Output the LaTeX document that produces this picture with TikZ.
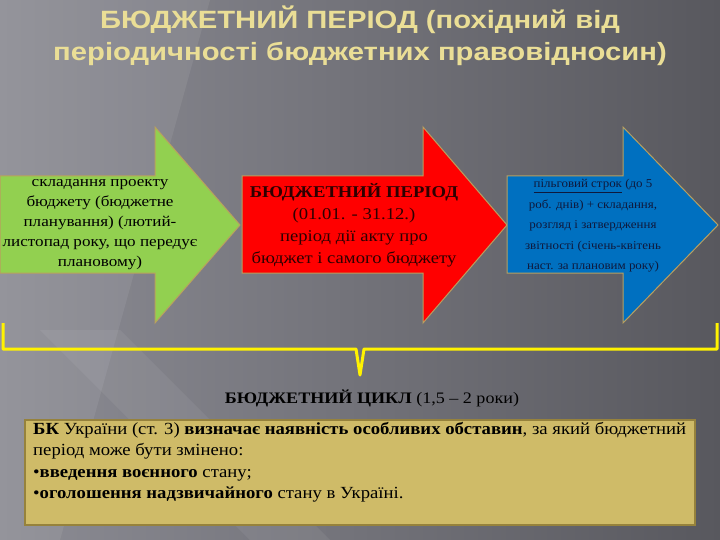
\documentclass[tikz,border=0pt]{standalone}
\usepackage{fontspec}
\setmainfont{Liberation Serif}
\newfontfamily\headfont[FakeStretch=1.17]{Liberation Sans}
\usetikzlibrary{positioning}
\definecolor{bgdark}{RGB}{88,88,94}
\definecolor{bglight}{RGB}{140,140,148}
\definecolor{titleyel}{RGB}{234,222,150}
\definecolor{grn}{RGB}{146,208,80}
\definecolor{rd}{RGB}{255,0,0}
\definecolor{blu}{RGB}{0,112,192}
\definecolor{rim}{RGB}{185,160,95}
\definecolor{tanfill}{RGB}{207,187,104}
\definecolor{tanrim}{RGB}{150,130,60}
\definecolor{navy}{RGB}{15,25,60}
\newcommand\wide[3]{\fontsize{#1}{#2}\selectfont\addfontfeature{FakeStretch=#3}}
\begin{document}
\begin{tikzpicture}[x=1pt,y=-1pt,
  arrowtext/.style={align=center, inner sep=0pt},
  notebox/.style={fill=tanfill, draw=tanrim, line width=1.2pt}]
\useasboundingbox (0,0) rectangle (720,540);
\shade[left color=bglight, right color=bgdark] (0,0) rectangle (720,540);
\fill[white, opacity=0.07] (0,0) -- (210,0) -- (60,540) -- (0,540) -- cycle;
\fill[white, opacity=0.06] (40,330) -- (120,330) -- (330,540) -- (250,540) -- cycle;
\node (title) at (360,36) [font=\headfont\bfseries\fontsize{25}{32}\selectfont, text=titleyel, align=center]
  {БЮДЖЕТНИЙ ПЕРІОД (похідний від\\періодичності бюджетних правовідносин)};
\foreach \tail/\base/\tip/\col in {0/155/240/grn, 242/423/507/rd, 507/623/718/blu}
  \filldraw[fill=\col, draw=rim, line width=1pt] (\tail,176) -- (\base,176) -- (\base,127)
    -- (\tip,225) -- (\base,323) -- (\base,273) -- (\tail,273) -- cycle;
\node (plan) at (100,225) [arrowtext, font=\wide{15}{20}{1.14}]
  {складання проекту\\бюджету (бюджетне\\планування) (лютий-\\листопад року, що передує\\плановому)};
\node (period) at (354,225) [arrowtext, text={rgb,255:red,45;green,0;blue,0}, font=\wide{16.5}{22}{1.13}]
  {\textbf{БЮДЖЕТНИЙ ПЕРІОД}\\(01.01. - 31.12.)\\період дії акту про\\бюджет і самого бюджету};
\node (report) at (593,226) [arrowtext, text=navy, font=\wide{12}{20.5}{1.08}]
  {\underline{пільговий строк} (до 5\\роб. днів) + складання,\\розгляд і затвердження\\звітності (січень-квітень\\наст. за плановим року)};
\draw[yellow, line width=3pt, line join=round] (3,323) -- (3,349) -- (356,349) -- (360,375)
  -- (364,349) -- (717,349) -- (717,323);
\node (cycle) at (372,398) [font=\wide{16}{18}{1.13}] {\textbf{БЮДЖЕТНИЙ ЦИКЛ} (1,5 – 2 роки)};
\draw[notebox] (25,420) rectangle (695,525);
\node (note) at (33,422) [anchor=north west, align=left, inner sep=0pt, font=\wide{17}{21.5}{1.1}]
  {\textbf{БК} України (ст. 3) \textbf{визначає наявність особливих обставин}, за який бюджетний\\
   період може бути змінено:\\
   •\textbf{введення воєнного} стану;\\
   •\textbf{оголошення надзвичайного} стану в Україні.};
\end{tikzpicture}
\end{document}
